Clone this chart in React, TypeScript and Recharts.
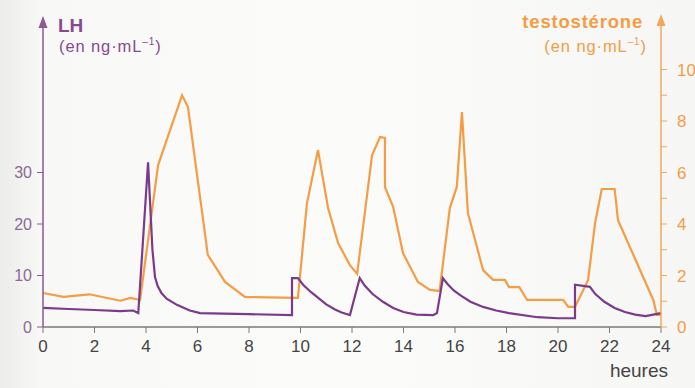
import { LineChart, Line, XAxis, YAxis } from "recharts";

// LH (ng/mL)
const lhHours = [
  0, 1, 2, 3, 3.5, 3.7, 4.08, 4.25, 4.35, 4.45, 4.6, 4.8, 5.2, 5.7, 6.1, 7, 8, 9.67,
  9.67, 9.9, 10.1, 10.4, 10.7, 11.0, 11.34, 11.6, 11.92, 12.3, 12.5, 12.8, 13.2, 13.6, 14.0, 14.5,
  15.15, 15.3, 15.53, 15.7, 15.95, 16.2, 16.6, 17.09, 17.6, 18.1, 19.2, 20.0, 20.66,
  20.66, 21.24, 21.45, 21.8, 22.2, 22.6, 23.0, 23.4, 24,
];
const lhValues = [
  3.7, 3.5, 3.3, 3.1, 3.2, 2.7, 32, 15, 9.7, 8, 6.6, 5.5, 4.3, 3.2, 2.7, 2.6, 2.5, 2.3,
  9.5, 9.5, 8.2, 6.8, 5.6, 4.4, 3.4, 2.8, 2.3, 9.5, 8.0, 6.4, 4.9, 3.7, 2.9, 2.4,
  2.3, 2.7, 9.5, 8.4, 7.1, 6.2, 4.9, 3.9, 3.2, 2.7, 1.9, 1.7, 1.7,
  8.2, 7.8, 6.4, 4.9, 3.7, 2.9, 2.4, 2.1, 2.7,
];

// testostérone (ng/mL)
const testoHours = [
  0, 0.8, 1.8, 3.0, 3.4, 3.77, 4.47, 5.4, 5.63, 6.4, 7.07, 7.84, 9.9, 10.25,
  10.68, 11.07, 11.46, 11.92, 12.2, 12.78, 13.09, 13.28, 13.28, 13.6, 13.98,
  14.56, 15.03, 15.4, 15.8, 16.07, 16.27, 16.5, 17.09, 17.48, 17.94, 18.1, 18.5,
  18.8, 20.2, 20.4, 20.66, 21.17, 21.44, 21.7, 22.2, 22.33, 23.7, 23.84, 24,
];
const testoValues = [
  1.32, 1.17, 1.27, 1.02, 1.13, 1.05, 6.29, 9.0, 8.54, 2.8, 1.75, 1.17, 1.13, 4.8,
  6.87, 4.62, 3.26, 2.4, 2.06, 6.68, 7.38, 7.34, 5.44, 4.66, 2.87,
  1.75, 1.44, 1.4, 4.62, 5.44, 8.35, 4.43, 2.21, 1.83, 1.83, 1.55, 1.55,
  1.05, 1.05, 0.78, 0.78, 1.83, 4.04, 5.36, 5.36, 4.15, 1.05, 0.47, 0.47,
];

const hourTicks = [0, 2, 4, 6, 8, 10, 12, 14, 16, 18, 20, 22, 24];
const lhTicks = [0, 10, 20, 30];
const testoTicks = [0, 1, 2, 3, 4, 5, 6, 7, 8, 9, 10];

const lhData = lhHours.map((h, i) => ({ h, lh: lhValues[i] }));
const testoData = testoHours.map((h, i) => ({ h, t: testoValues[i] }));

const PURPLE = "#7b3a8a";
const PURPLE_AXIS = "#8d5a93";
const ORANGE = "#f49d45";
const ORANGE_AXIS = "#f4a75c";

type VB = { x: number; y: number; width: number; height: number };

function LhTitle(props: { viewBox?: VB }) {
  const { x, y, width } = props.viewBox as VB;
  const ax = x + width;
  return (
    <g>
      <polygon points={`${ax},${y - 2} ${ax - 4.5},${y + 10} ${ax + 4.5},${y + 10}`} fill={PURPLE_AXIS} />
      <text x={ax + 15} y={y + 14} fill="#8a4a92" fontSize={19} fontWeight="bold">LH</text>
      <text x={ax + 16} y={y + 34} fill="#8a4a92" fontSize={16.5} letterSpacing={0.9}>
        (en ng·mL<tspan fontSize={10} dy={-7}>–1</tspan><tspan dy={7}>)</tspan>
      </text>
    </g>
  );
}

function TestoTitle(props: { viewBox?: VB }) {
  const { x, y } = props.viewBox as VB;
  return (
    <g>
      <polygon points={`${x},${y - 4} ${x - 4.5},${y + 8} ${x + 4.5},${y + 8}`} fill={ORANGE_AXIS} />
      <text x={x - 18} y={y + 10} fill={ORANGE} fontSize={18.5} fontWeight="bold" textAnchor="end" letterSpacing={0.8}>
        testostérone
      </text>
      <text x={x - 14} y={y + 34} fill={ORANGE} fontSize={16.5} textAnchor="end" letterSpacing={0.9}>
        (en ng·mL<tspan fontSize={10} dy={-7}>–1</tspan><tspan dy={7}>)</tspan>
      </text>
    </g>
  );
}

function HoursLabel(props: { viewBox?: VB }) {
  const { x, y, width } = props.viewBox as VB;
  return (
    <text x={x + width + 7} y={y + 50} fill="#444" fontSize={19} textAnchor="end">heures</text>
  );
}

function TestoTick(props: { x: number; y: number; payload: { value: number } }) {
  const { x, y, payload } = props;
  if (payload.value % 2 !== 0) return <g />;
  return (
    <text x={x + 6} y={y + 6} fill={ORANGE} fontSize={17} textAnchor="start">{payload.value}</text>
  );
}

export default function App() {
  return (
    <div
      style={{
        position: "absolute", left: 0, top: 0, width: 695, height: 388,
        background: "linear-gradient(90deg, #ececea 0%, #f8f8f6 6%, #fbfbf9 50%, #f6f6f4 100%)",
        fontFamily: "'Liberation Sans', Arial, sans-serif",
      }}
    >
      <LineChart width={695} height={388} margin={{ top: 18, right: 0, left: 0, bottom: 0 }}>
        <XAxis
          dataKey="h" type="number" domain={[0, 24]} ticks={hourTicks} height={61}
          allowDuplicatedCategory={false}
          axisLine={{ stroke: "#7a7a7a", strokeWidth: 1.5 }}
          tickLine={{ stroke: "#7a7a7a" }} tickSize={6} tickMargin={7}
          tick={{ fill: "#444", fontSize: 17 }}
          label={(p: { viewBox?: VB }) => <HoursLabel {...p} />}
        />
        <YAxis
          yAxisId="lh" orientation="left" domain={[0, 60]} ticks={lhTicks} width={43}
          axisLine={{ stroke: PURPLE_AXIS, strokeWidth: 1.5 }}
          tickLine={{ stroke: PURPLE_AXIS }} tickSize={6} tickMargin={5}
          tick={{ fill: "#8d6a93", fontSize: 16 }}
          label={(p: { viewBox?: VB }) => <LhTitle {...p} />}
        />
        <YAxis
          yAxisId="t" orientation="right" domain={[0, 12]} ticks={testoTicks} width={34}
          axisLine={{ stroke: ORANGE_AXIS, strokeWidth: 1.5 }}
          tickLine={{ stroke: ORANGE_AXIS }} tickSize={6} tickMargin={4}
          tick={(p: any) => <TestoTick {...p} />}
          label={(p: { viewBox?: VB }) => <TestoTitle {...p} />}
        />
        <Line
          yAxisId="t" data={testoData} dataKey="t" type="linear" stroke={ORANGE}
          strokeWidth={2.2} dot={false} isAnimationActive={false}
        />
        <Line
          yAxisId="lh" data={lhData} dataKey="lh" type="linear" stroke={PURPLE}
          strokeWidth={2.2} dot={false} isAnimationActive={false}
        />
      </LineChart>
    </div>
  );
}
